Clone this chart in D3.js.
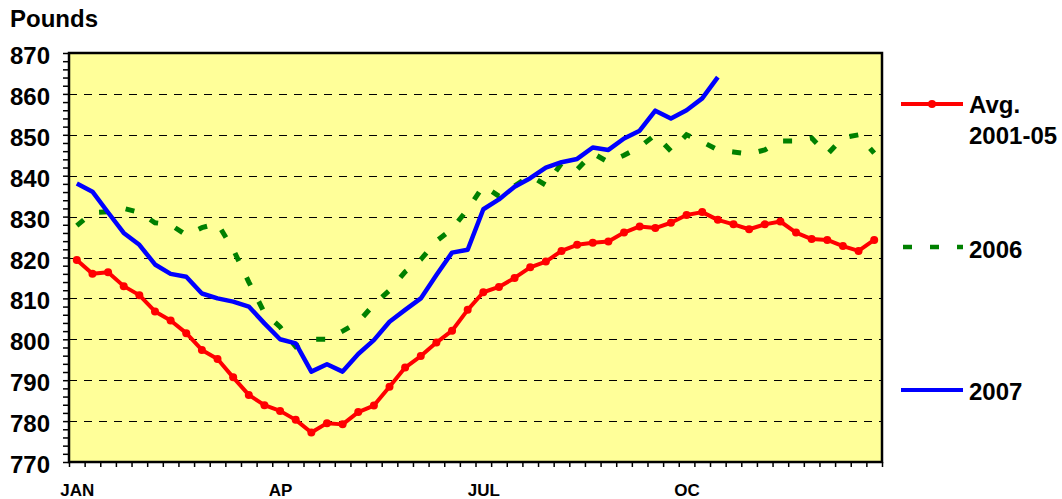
<!DOCTYPE html>
<html>
<head>
<meta charset="utf-8">
<script src="https://cdn.jsdelivr.net/npm/d3@7"></script>
<style>
  html, body { margin: 0; padding: 0; background: #fff; }
  svg { display: block; }
  text { font-family: "Liberation Sans", Arial, Helvetica, sans-serif; font-weight: bold; fill: #000; }
</style>
</head>
<body>
<svg id="chart" width="1062" height="499"></svg>
<script>
// ---- data ----
const monthLabels = ["JAN", "AP", "JUL", "OC"];
const monthWeekIndex = [0, 13, 26, 39];
const yTickValues = [770, 780, 790, 800, 810, 820, 830, 840, 850, 860, 870];
const seriesNames = ["Avg.\n2001-05", "2006", "2007"];

const avg2001_05 = [819.4, 816.0, 816.4, 813.0, 810.8, 806.8, 804.6, 801.5, 797.4, 795.2,
  790.7, 786.4, 783.9, 782.5, 780.3, 777.2, 779.5, 779.2, 782.2, 783.8,
  788.4, 793.1, 795.9, 799.2, 802.1, 807.2, 811.5, 812.8, 815.0, 817.6,
  819.0, 821.6, 823.1, 823.6, 823.9, 826.1, 827.6, 827.2, 828.5, 830.4,
  831.1, 829.2, 828.1, 826.9, 828.1, 828.8, 826.1, 824.5, 824.3, 822.8,
  821.6, 824.3];

const y2006 = [827.8, 831.0, 831.2, 832.0, 831.0, 828.5, 828.0, 825.5, 827.3, 828.3,
  822.0, 814.0, 806.5, 803.0, 798.2, 800.0, 800.0, 802.0, 804.2, 808.5,
  812.0, 816.5, 819.5, 824.0, 827.0, 831.8, 837.5, 835.0, 837.5, 840.0,
  837.7, 843.0, 841.5, 845.5, 843.3, 845.0, 847.0, 850.0, 846.0, 850.0,
  848.3, 846.3, 845.8, 845.3, 846.3, 848.5, 848.5, 849.2, 845.2, 849.3,
  850.0, 845.5];

const y2007 = [838.1, 836.1, 831.0, 826.0, 823.1, 818.3, 816.0, 815.3, 811.2, 810.0,
  809.2, 808.0, 803.9, 800.0, 799.0, 792.1, 793.9, 792.1, 796.4, 799.8,
  804.3, 807.2, 810.0, 815.7, 821.2, 821.9, 831.8, 834.2, 837.3, 839.4,
  842.0, 843.3, 844.1, 846.9, 846.3, 849.1, 851.0, 855.9, 854.0, 856.0,
  858.9, 864.1];

// ---- layout ----
const L = 69, R = 882, T = 53, B = 462;
const svg = d3.select("#chart");

const x = d3.scaleLinear().domain([0, 52]).range([L, R]);
const y = d3.scaleLinear().domain([770, 870]).range([B, T]);
const xc = i => x(i + 0.5);

// plot background
svg.append("rect").attr("x", L).attr("y", T).attr("width", R - L).attr("height", B - T)
  .attr("fill", "#FFFF99");

// gridlines
svg.append("g").selectAll("line")
  .data(yTickValues.filter(v => v > 770 && v < 870))
  .join("line")
  .attr("x1", L).attr("x2", R)
  .attr("y1", d => Math.round(y(d)) + 0.5).attr("y2", d => Math.round(y(d)) + 0.5)
  .attr("stroke", "#000").attr("stroke-width", 1)
  .attr("stroke-dasharray", "8,7");

// y axis
const yAxis = d3.axisLeft(y)
  .tickValues(d3.range(770, 871, 2))
  .tickSize(6).tickPadding(13)
  .tickFormat(d => (d % 10 === 0 ? d : ""));
const gy = svg.append("g").attr("transform", `translate(${L},0)`).call(yAxis);
gy.select(".domain").remove();
gy.selectAll(".tick line").attr("stroke", "#000").attr("stroke-width", 1.5);
gy.selectAll(".tick text").attr("font-size", 24).attr("dy", 10.5)
  .style("font-family", '"Liberation Sans", Arial, sans-serif').style("font-weight", "bold");

// x axis ticks (week boundaries)
const xAxis = d3.axisBottom(x).tickValues(d3.range(53)).tickSize(5).tickFormat("");
const gx = svg.append("g").attr("transform", `translate(0,${B})`).call(xAxis);
gx.select(".domain").remove();
gx.selectAll(".tick line").attr("stroke", "#000").attr("stroke-width", 1.5);

// x axis month labels
const xLabAxis = d3.axisBottom(x)
  .tickValues(monthWeekIndex.map(i => i + 0.5))
  .tickSize(0).tickPadding(22)
  .tickFormat((d, i) => monthLabels[i]);
const gxl = svg.append("g").attr("transform", `translate(0,${B})`).call(xLabAxis);
gxl.select(".domain").remove();
gxl.selectAll(".tick text").attr("font-size", 17)
  .style("font-family", '"Liberation Sans", Arial, sans-serif').style("font-weight", "bold");

// series
const line = d3.line().defined(d => d != null).x((d, i) => xc(i)).y(d => y(d));

svg.append("path").datum(y2006).attr("d", line)
  .attr("fill", "none").attr("stroke", "#008000").attr("stroke-width", 5)
  .attr("stroke-dasharray", "9,18");

svg.append("path").datum(y2007).attr("d", line)
  .attr("fill", "none").attr("stroke", "#0000FF").attr("stroke-width", 4.5)
  .attr("stroke-linejoin", "round");

svg.append("path").datum(avg2001_05).attr("d", line)
  .attr("fill", "none").attr("stroke", "#FF0000").attr("stroke-width", 4)
  .attr("stroke-linejoin", "round");
svg.append("g").selectAll("circle").data(avg2001_05).join("circle")
  .attr("cx", (d, i) => xc(i)).attr("cy", d => y(d)).attr("r", 4)
  .attr("fill", "#FF0000");

// plot border
svg.append("rect").attr("x", L).attr("y", T).attr("width", R - L).attr("height", B - T)
  .attr("fill", "none").attr("stroke", "#000").attr("stroke-width", 2.5);

// title
svg.append("text").attr("x", 10).attr("y", 27).attr("font-size", 24).text("Pounds");

// legend
const legY = [104, 247, 390];
const lg = svg.append("g");
// red
lg.append("line").attr("x1", 901).attr("x2", 963).attr("y1", legY[0]).attr("y2", legY[0])
  .attr("stroke", "#FF0000").attr("stroke-width", 4);
lg.append("circle").attr("cx", 932).attr("cy", legY[0]).attr("r", 4).attr("fill", "#FF0000");
const t0 = lg.append("text").attr("x", 969).attr("y", 113).attr("font-size", 24);
seriesNames[0].split("\n").forEach((s, i) => {
  t0.append("tspan").attr("x", 969).attr("dy", i === 0 ? 0 : 30.5).text(s);
});
// green
lg.append("line").attr("x1", 903).attr("x2", 963).attr("y1", legY[1]).attr("y2", legY[1])
  .attr("stroke", "#008000").attr("stroke-width", 4.5).attr("stroke-dasharray", "9,18");
lg.append("text").attr("x", 969).attr("y", 258).attr("font-size", 24).text(seriesNames[1]);
// blue
lg.append("line").attr("x1", 901).attr("x2", 963).attr("y1", legY[2]).attr("y2", legY[2])
  .attr("stroke", "#0000FF").attr("stroke-width", 4);
lg.append("text").attr("x", 969).attr("y", 400).attr("font-size", 24).text(seriesNames[2]);
</script>
</body>
</html>
